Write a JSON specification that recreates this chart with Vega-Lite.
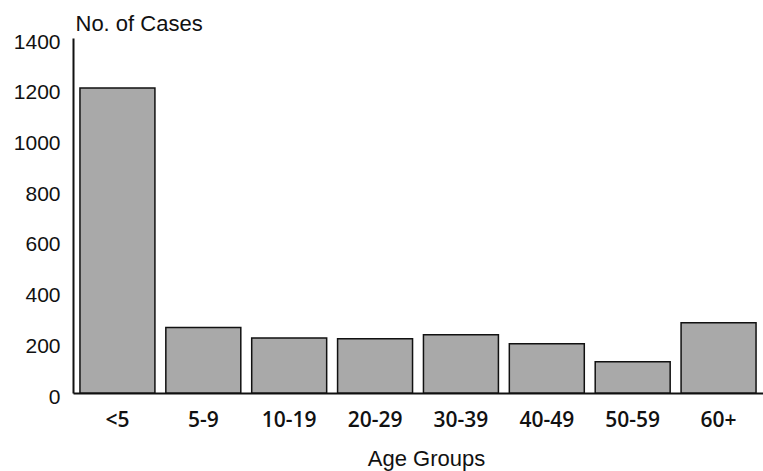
{
  "$schema": "https://vega.github.io/schema/vega-lite/v6.json",
  "autosize": "none",
  "width": 690,
  "height": 355,
  "padding": {"left": 73, "top": 38, "right": 0, "bottom": 78},
  "background": "white",
  "config": {"view": {"stroke": null}},
  "data": {
    "values": [
      {"age": "<5", "cases": 1203},
      {"age": "5-9", "cases": 258},
      {"age": "10-19", "cases": 217},
      {"age": "20-29", "cases": 214},
      {"age": "30-39", "cases": 230},
      {"age": "40-49", "cases": 194},
      {"age": "50-59", "cases": 123},
      {"age": "60+", "cases": 277}
    ]
  },
  "mark": {"type": "bar", "fill": "#a9a9a9", "stroke": "#111111", "strokeWidth": 1.5},
  "encoding": {
    "x": {
      "field": "age",
      "type": "nominal",
      "sort": null,
      "scale": {"paddingInner": 0.127, "paddingOuter": 0.081},
      "axis": {
        "title": "Age Groups",
        "titleFont": "Liberation Sans",
        "titleFontSize": 22,
        "titleFontWeight": "normal",
        "titleColor": "#111111",
        "titleBaseline": "alphabetic",
        "titleAlign": "center",
        "titleX": 353,
        "titleY": 72,
        "labelFont": "Open Sans",
        "labelFontSize": 21,
        "labelFontWeight": 600,
        "labelColor": "#111111",
        "labelAngle": 0,
        "labelBaseline": "middle",
        "labelPadding": 27,
        "ticks": false,
        "tickSize": 0,
        "domainColor": "#111111",
        "domainWidth": 2,
        "grid": false
      }
    },
    "y": {
      "field": "cases",
      "type": "quantitative",
      "scale": {"domain": [0, 1400], "nice": false},
      "axis": {
        "title": "No. of Cases",
        "titleFont": "Liberation Sans",
        "titleFontSize": 22,
        "titleFontWeight": "normal",
        "titleColor": "#111111",
        "titleAngle": 0,
        "titleAlign": "left",
        "titleBaseline": "alphabetic",
        "titleX": 2,
        "titleY": -8,
        "values": [0, 200, 400, 600, 800, 1000, 1200, 1400],
        "format": "d",
        "labelFont": "Liberation Sans",
        "labelFontSize": 21,
        "labelColor": "#111111",
        "labelPadding": 13,
        "labelOffset": 4,
        "labelBaseline": "middle",
        "ticks": false,
        "tickSize": 0,
        "domainColor": "#111111",
        "domainWidth": 2,
        "grid": false
      }
    }
  }
}
